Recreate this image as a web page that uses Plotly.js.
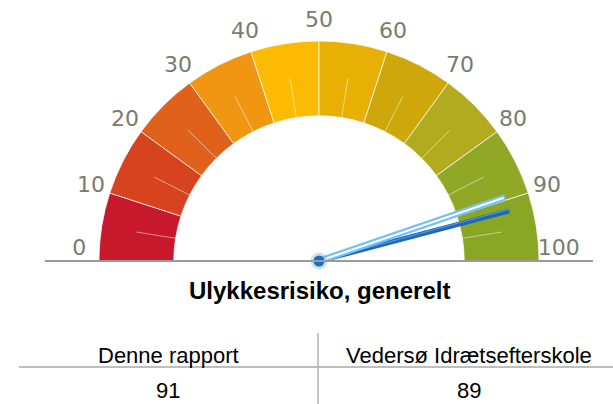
<!DOCTYPE html>
<html>
<head>
<meta charset="utf-8">
<script src="https://cdn.plot.ly/plotly-3.0.1.min.js"></script>
<style>
  html, body { margin: 0; padding: 0; background: #ffffff; }
  #chart { width: 613px; height: 404px; }
</style>
</head>
<body>
<div id="chart"></div>
<script>
// ---- data ----
const bandStarts = [0, 10, 20, 30, 40, 50, 60, 70, 80, 90];
const bandColors = ['#c8192c', '#d7421f', '#e0611b', '#f09612', '#fcbb00',
                    '#e8b004', '#cea70a', '#b2ab1f', '#91a826', '#8ba524'];
const tickValues = [0, 10, 20, 30, 40, 50, 60, 70, 80, 90, 100];
const tickLabels = ['0', '10', '20', '30', '40', '50', '60', '70', '80', '90', '100'];
const minorTicks = [5, 15, 25, 35, 45, 55, 65, 75, 85, 95];
const seriesNames = ['Denne rapport', 'Vedersø Idrætsefterskole'];
const tableValues = ['91', '89'];
const needleValues = [91.8, 89.5];
const chartTitle = 'Ulykkesrisiko, generelt';

const gaugeMin = 0, gaugeMax = 100;
const toTheta = v => (v - gaugeMin) / (gaugeMax - gaugeMin) * 180;
const bandWidth = 10;
const innerR = 66, outerR = 100, minorOuter = 84, needleR = 89.5, labelR = 109, radialMax = 114;

// ---- traces ----
const traces = [];

traces.push({
  type: 'barpolar',
  theta: bandStarts.map(s => toTheta(s + bandWidth / 2)),
  width: bandStarts.map(() => toTheta(bandWidth)),
  r: bandStarts.map(() => outerR - innerR),
  base: bandStarts.map(() => innerR),
  marker: { color: bandColors, line: { color: 'rgba(255,255,255,0.7)', width: 1 } },
  hoverinfo: 'skip', showlegend: false
});

const mr = [], mt = [];
minorTicks.forEach(v => { mr.push(innerR, minorOuter, null); mt.push(toTheta(v), toTheta(v), null); });
traces.push({
  type: 'scatterpolar', mode: 'lines', r: mr, theta: mt,
  line: { color: 'rgba(255,255,255,0.5)', width: 1 },
  hoverinfo: 'skip', showlegend: false
});

// tick labels
traces.push({
  type: 'scatterpolar', mode: 'text',
  r: tickValues.map(() => labelR), theta: tickValues.map(toTheta),
  text: tickLabels,
  textposition: tickValues.map(v => (v === gaugeMin || v === gaugeMax) ? 'top center' : 'middle center'),
  textfont: { family: 'DejaVu Sans, sans-serif', size: 22, color: '#777c6f' },
  cliponaxis: false, hoverinfo: 'skip', showlegend: false
});

// dark needle (Denne rapport)
traces.push({
  type: 'scatterpolar', mode: 'lines',
  r: [0, needleR], theta: [toTheta(needleValues[0]), toTheta(needleValues[0])],
  line: { color: '#1c68bc', width: 5 }, hoverinfo: 'skip', showlegend: false
});
traces.push({
  type: 'scatterpolar', mode: 'lines',
  r: [0, needleR], theta: [toTheta(needleValues[0] - 0.25), toTheta(needleValues[0] - 0.25)],
  line: { color: '#5c9ede', width: 1 }, hoverinfo: 'skip', showlegend: false
});
// light needle (Vedersø)
traces.push({
  type: 'scatterpolar', mode: 'lines',
  r: [0, needleR], theta: [toTheta(needleValues[1]), toTheta(needleValues[1])],
  line: { color: '#74c0f2', width: 6.5 }, hoverinfo: 'skip', showlegend: false
});
traces.push({
  type: 'scatterpolar', mode: 'lines',
  r: [0, needleR - 0.7], theta: [toTheta(needleValues[1]), toTheta(needleValues[1])],
  line: { color: '#ffffff', width: 2 }, hoverinfo: 'skip', showlegend: false
});
// hub
traces.push({
  type: 'scatterpolar', mode: 'markers', r: [0], theta: [0],
  marker: { size: 17, color: 'rgba(120,180,235,0.4)' }, hoverinfo: 'skip', showlegend: false
});
traces.push({
  type: 'scatterpolar', mode: 'markers', r: [0], theta: [0],
  marker: { size: 11, color: '#1f6cc0' }, hoverinfo: 'skip', showlegend: false
});

// ---- layout ----
const W = 613, H = 404;
const cx = 319, cy = 261, R = 220 * radialMax / outerR;
const px = x => x / W, py = y => (H - y) / H;

const annotations = [
  { text: chartTitle, x: px(319), y: py(290), xref: 'paper', yref: 'paper',
    xanchor: 'center', yanchor: 'middle', showarrow: false,
    font: { family: 'Liberation Sans, Arial, sans-serif', size: 24, color: '#000000', weight: 'bold' } }
];
const colCenters = [168, 469];
seriesNames.forEach((n, i) => {
  annotations.push({ text: n, x: px(colCenters[i]), y: py(355), xref: 'paper', yref: 'paper',
    xanchor: 'center', yanchor: 'middle', showarrow: false,
    font: { family: 'Liberation Sans, Arial, sans-serif', size: 22, color: '#000000' } });
  annotations.push({ text: tableValues[i], x: px(colCenters[i]), y: py(390), xref: 'paper', yref: 'paper',
    xanchor: 'center', yanchor: 'middle', showarrow: false,
    font: { family: 'Liberation Sans, Arial, sans-serif', size: 22, color: '#000000' } });
});

const layout = {
  width: W, height: H,
  margin: { l: 0, r: 0, t: 0, b: 0 },
  paper_bgcolor: '#ffffff',
  showlegend: false,
  polar: {
    domain: { x: [px(cx - R), px(cx + R)], y: [py(cy), py(cy - R)] },
    sector: [0, 180],
    bgcolor: 'rgba(0,0,0,0)',
    barmode: 'overlay',
    radialaxis: { visible: false, range: [0, radialMax] },
    angularaxis: {
      rotation: 180, direction: 'clockwise',
      showticklabels: false, ticks: '', showline: false, showgrid: false
    }
  },
  shapes: [
    { type: 'line', xref: 'paper', yref: 'paper', x0: px(45), x1: px(593), y0: py(cy), y1: py(cy),
      line: { color: '#9a9a9a', width: 2 }, layer: 'above' },
    { type: 'line', xref: 'paper', yref: 'paper', x0: px(19), x1: px(613), y0: py(367), y1: py(367),
      line: { color: '#a8a8a8', width: 1.5 } },
    { type: 'line', xref: 'paper', yref: 'paper', x0: px(318), x1: px(318), y0: py(333), y1: py(404),
      line: { color: '#b0b0b0', width: 1.5 } }
  ],
  annotations: annotations
};

Plotly.newPlot('chart', traces, layout, { staticPlot: true, displayModeBar: false });
</script>
</body>
</html>
